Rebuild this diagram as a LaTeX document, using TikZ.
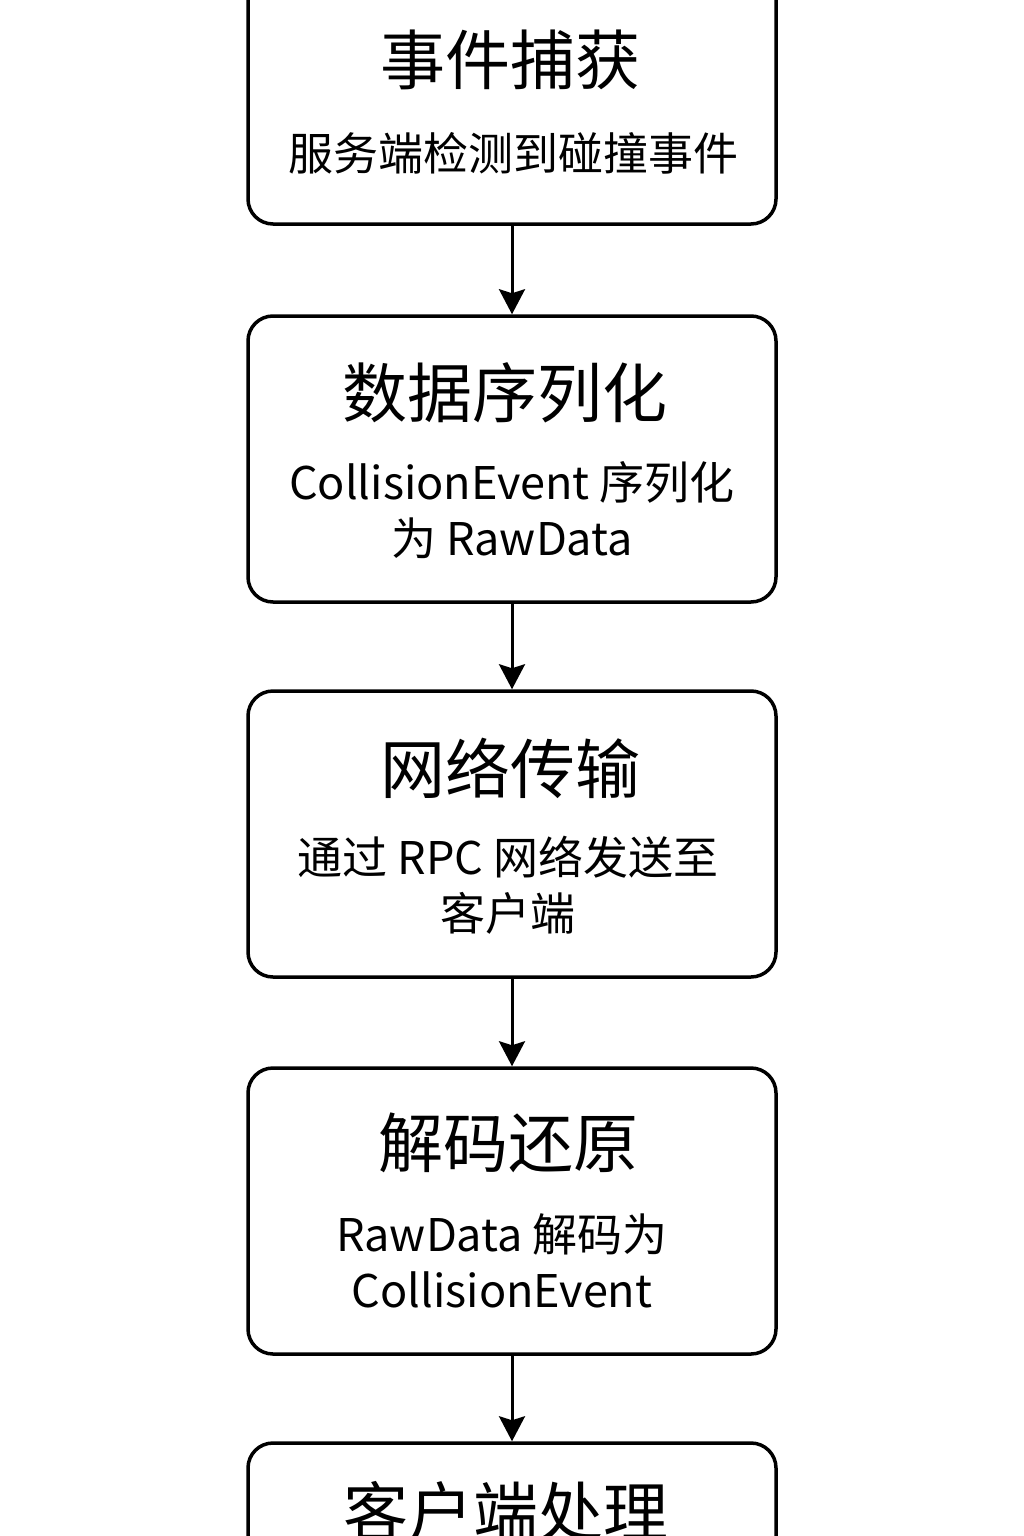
\documentclass[tikz,border=0pt]{standalone}
\usepackage{fontspec}
\setmainfont{Noto Sans CJK SC}
\usetikzlibrary{arrows.meta}
\tikzset{
  stagebox/.style={draw=black, line width=3.5pt, rounded corners=25pt, minimum width=528pt, minimum height=286pt, inner sep=0pt, fill=white},
  titletext/.style={font=\fontsize{65}{78}\selectfont, inner sep=0pt, anchor=center},
  subtext/.style={font=\fontsize{45}{56}\selectfont, inner sep=0pt, anchor=center, align=center},
  flow/.style={line width=3pt, -{Stealth[length=25pt,width=26pt,inset=4pt]}}
}
\begin{document}
\begin{tikzpicture}[x=1pt,y=-1pt]
\clip (0,0) rectangle (1024,1536);
\fill[white] (0,0) rectangle (1024,1536);
\node[stagebox] (b1) at (512,81) {};
\node[stagebox] (b2) at (512,459) {};
\node[stagebox] (b3) at (512,834) {};
\node[stagebox] (b4) at (512,1211) {};
\node[stagebox] (b5) at (512,1586) {};
\node[titletext] (t1) at (510,60) {事件捕获};
\node[subtext] (s1) at (513,153) {服务端检测到碰撞事件};
\node[titletext] (t2) at (505,393) {数据序列化};
\node[subtext] (s2) at (512,510) {CollisionEvent 序列化\\为 RawData};
\node[titletext] (t3) at (510,768) {网络传输};
\node[subtext] (s3) at (508,885) {通过 RPC 网络发送至\\客户端};
\node[titletext] (t4) at (508,1143) {解码还原};
\node[subtext] (s4) at (502,1261) {RawData 解码为\\CollisionEvent};
\node[titletext] (t5) at (506,1512) {客户端处理};
\draw[flow] (b1.south) -- (b2.north);
\draw[flow] (b2.south) -- (b3.north);
\draw[flow] (b3.south) -- (b4.north);
\draw[flow] (b4.south) -- (b5.north);
\end{tikzpicture}
\end{document}
